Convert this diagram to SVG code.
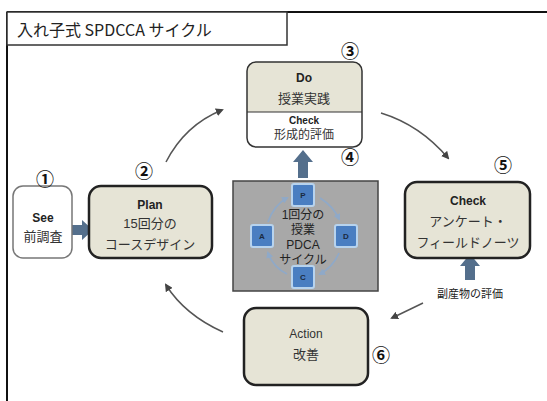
<svg xmlns="http://www.w3.org/2000/svg" width="547" height="401" viewBox="0 0 547 401">
<defs>
<style>
.t{font-family:"Liberation Sans","Noto Sans CJK JP",sans-serif;fill:#333;text-anchor:middle}
.b{font-weight:bold;fill:#222}
.dk{fill:#222}
.box{fill:#e6e4d6;stroke:#222;stroke-width:2.5}
.num{font-family:"Noto Sans CJK JP",sans-serif;font-size:18px;font-weight:bold;fill:#111;text-anchor:middle}
.conn{fill:none;stroke:#555;stroke-width:1.5}
.inner{fill:none;stroke:#8fa9c8;stroke-width:1.8}
.sq{fill:#4a7ec1;stroke:#b7d3ee;stroke-width:2}
.sl{font-family:"Liberation Sans",sans-serif;font-weight:bold;font-size:8px;fill:#1a2a40;text-anchor:middle}
.blk{fill:#546f8c}
</style>
<marker id="ah" markerWidth="8" markerHeight="8" refX="6" refY="4" orient="auto" markerUnits="userSpaceOnUse">
<path d="M0,0 L8,4 L0,8 z" fill="#444"/>
</marker>
<marker id="ai" markerWidth="7" markerHeight="7" refX="5" refY="3.5" orient="auto" markerUnits="userSpaceOnUse">
<path d="M0,0 L7,3.5 L0,7 z" fill="#8fa9c8"/>
</marker>
</defs>
<rect width="547" height="401" fill="#fff"/>
<g id="frame">
<line x1="7" y1="12" x2="547" y2="12" stroke="#111" stroke-width="2"/>
<line x1="7" y1="12" x2="7" y2="401" stroke="#111" stroke-width="2"/>
<rect x="7" y="12" width="280" height="33" fill="#fff" stroke="#333" stroke-width="1.5"/>
<text x="17" y="36" font-family="'Noto Sans CJK JP',sans-serif" font-size="16" fill="#222">入れ子式 SPDCCA サイクル</text>
</g>
<g id="connectors">
<path class="conn" d="M166,162 Q185,125 222,110" marker-end="url(#ah)"/>
<path class="conn" d="M381,113 Q420,125 448,158" marker-end="url(#ah)"/>
<path class="conn" d="M423,303 L392,318" marker-end="url(#ah)"/>
<path class="conn" d="M223,332 Q185,315 166,285" marker-end="url(#ah)"/>
<path class="blk" d="M66,225 L82,225 L82,220 L93,230 L82,240 L82,235 L66,235 z"/>
<path class="blk" d="M298,178 L298,162 L293,162 L303,150 L313,162 L308,162 L308,178 z"/>
<path class="blk" d="M465,280 L465,266 L460,266 L470,254 L480,266 L475,266 L475,280 z"/>
</g>
<g id="see">
<rect x="13" y="186" width="59" height="72" rx="10" fill="#fff" stroke="#777" stroke-width="1.5"/>
<text class="t b" x="43" y="222" font-size="12">See</text>
<text class="t" x="43" y="241" font-size="13">前調査</text>
<text class="num" x="45" y="186">①</text>
</g>
<g id="plan">
<rect class="box" x="89" y="186" width="123" height="72" rx="12"/>
<text class="t b" x="150" y="209" font-size="12">Plan</text>
<text class="t" x="150" y="228" font-size="13">15回分の</text>
<text class="t" x="150" y="249" font-size="13">コースデザイン</text>
<text class="num" x="144" y="178">②</text>
</g>
<g id="do">
<path d="M247,112 L247,71 Q247,62 256,62 L353,62 Q362,62 362,71 L362,112 z" fill="#e6e4d6"/>
<rect x="247" y="62" width="115" height="85" rx="9" fill="none" stroke="#333" stroke-width="1.5"/>
<line x1="247" y1="112" x2="362" y2="112" stroke="#333" stroke-width="1.2"/>
<text class="t b" x="304" y="82" font-size="12">Do</text>
<text class="t" x="304" y="103" font-size="13">授業実践</text>
<text class="t b" x="304" y="124" font-size="10">Check</text>
<text class="t" x="304" y="139" font-size="12">形成的評価</text>
<text class="num" x="350" y="58">③</text>
</g>
<g id="pdca">
<rect x="233" y="181" width="145" height="110" fill="#a8a8a8" stroke="#444" stroke-width="1.5"/>
<path class="inner" d="M268,222 Q274,205 287,198" marker-end="url(#ai)"/>
<path class="inner" d="M320,198 Q333,206 339,219" marker-end="url(#ai)"/>
<path class="inner" d="M339,253 Q333,267 320,274" marker-end="url(#ai)"/>
<path class="inner" d="M287,274 Q273,267 268,253" marker-end="url(#ai)"/>
<rect class="sq" x="292" y="184" width="22" height="22" rx="2"/>
<rect class="sq" x="251" y="225" width="22" height="22" rx="2"/>
<rect class="sq" x="335" y="225" width="22" height="22" rx="2"/>
<rect class="sq" x="292" y="266" width="22" height="22" rx="2"/>
<text class="sl" x="303" y="198">P</text>
<text class="sl" x="262" y="239">A</text>
<text class="sl" x="346" y="239">D</text>
<text class="sl" x="303" y="280">C</text>
<text class="t dk" x="303" y="219" font-size="12">1回分の</text>
<text class="t dk" x="303" y="234" font-size="12">授業</text>
<text class="t dk" x="303" y="249" font-size="12">PDCA</text>
<text class="t dk" x="303" y="264" font-size="12">サイクル</text>
<text class="num" x="350" y="164">④</text>
</g>
<g id="check">
<rect class="box" x="405" y="182" width="125" height="76" rx="12"/>
<text class="t b" x="468" y="205" font-size="12">Check</text>
<text class="t" x="468" y="226" font-size="13">アンケート・</text>
<text class="t" x="468" y="247" font-size="13">フィールドノーツ</text>
<text class="num" x="503" y="172">⑤</text>
<text class="t dk" x="470" y="298" font-size="11">副産物の評価</text>
</g>
<g id="action">
<rect class="box" x="244" y="308" width="124" height="77" rx="12"/>
<text class="t" x="306" y="338" font-size="12">Action</text>
<text class="t" x="306" y="359" font-size="13">改善</text>
<text class="num" x="381" y="362">⑥</text>
</g>
</svg>
